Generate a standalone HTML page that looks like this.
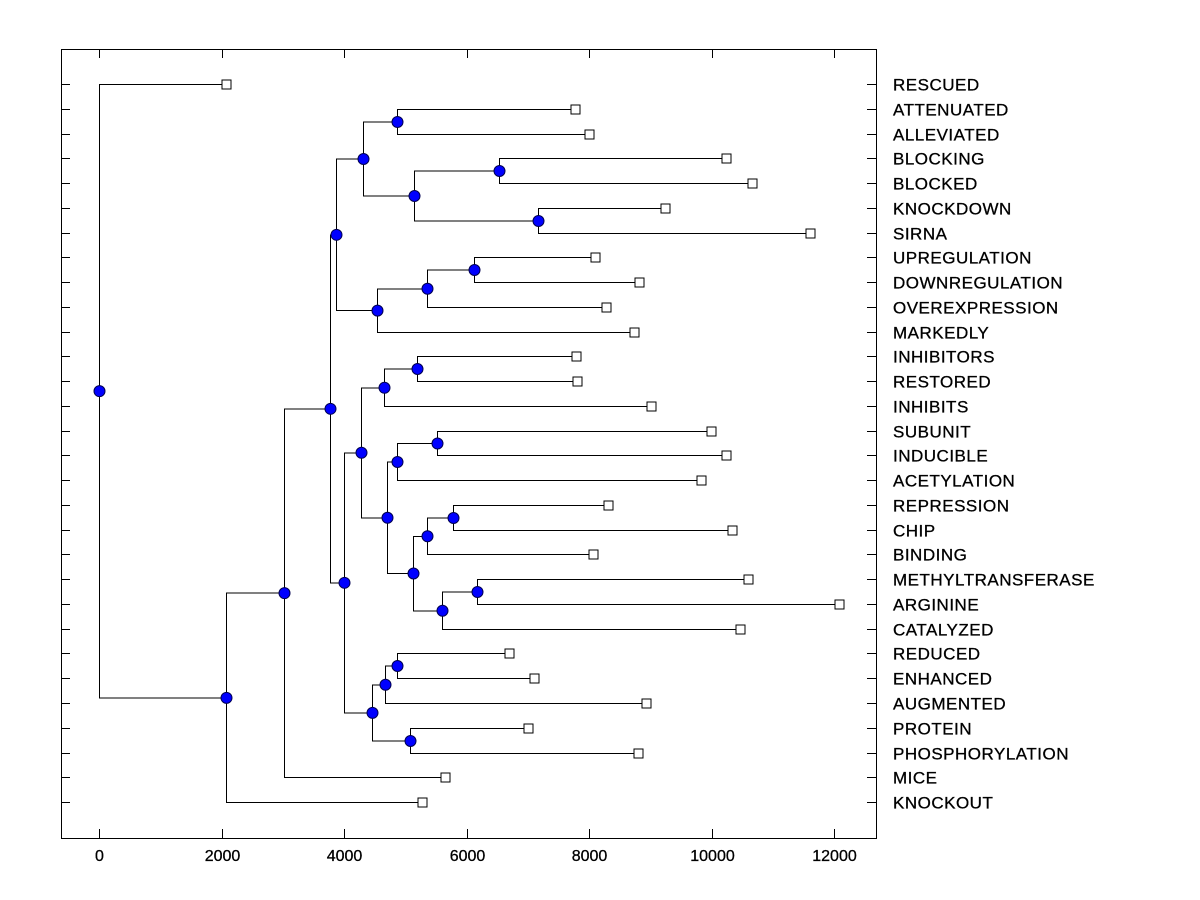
<!DOCTYPE html>
<html><head><meta charset="utf-8"><style>
html,body{margin:0;padding:0;background:#fff;}
svg{display:block;font-family:"Liberation Sans",Arial,sans-serif;}
</style></head><body>
<svg id="chart" width="1200" height="900" xmlns="http://www.w3.org/2000/svg" shape-rendering="crispEdges"></svg>
<script>
const leafNames=["RESCUED","ATTENUATED","ALLEVIATED","BLOCKING","BLOCKED","KNOCKDOWN","SIRNA","UPREGULATION","DOWNREGULATION","OVEREXPRESSION","MARKEDLY","INHIBITORS","RESTORED","INHIBITS","SUBUNIT","INDUCIBLE","ACETYLATION","REPRESSION","CHIP","BINDING","METHYLTRANSFERASE","ARGININE","CATALYZED","REDUCED","ENHANCED","AUGMENTED","PROTEIN","PHOSPHORYLATION","MICE","KNOCKOUT"];
const leafValues=[2070,7770,7990,10230,10660,9240,11600,8090,8810,8270,8730,7780,7800,9010,9990,10230,9820,8300,10330,8060,10590,12080,10460,6690,7100,8930,7000,8790,5640,5270];
const mergeLeft=[1,3,5,31,30,7,35,36,34,11,39,14,41,17,43,20,45,44,42,40,23,50,26,51,49,38,55,56,0];
const mergeRight=[2,4,6,32,33,8,9,10,37,12,13,15,16,18,19,21,22,46,47,48,24,25,27,52,53,54,28,29,57];
const mergeHeights=[4860,6530,7170,5140,4310,6120,5350,4540,3870,5190,4640,5510,4860,5780,5350,6170,5600,5120,4700,4280,4860,4670,5070,4460,4000,3770,3020,2070,0];
const xTicks=[0,2000,4000,6000,8000,10000,12000];

const NS="http://www.w3.org/2000/svg";
const svg=document.getElementById('chart');
const L=61,R=876,T=49,B=838;
function xs(v){return Math.round(99.3+v*0.06125)+0.5;}
function ys(i){return Math.round(84+i*24.76)+0.5;}
function mk(tag,attrs,parent){const e=document.createElementNS(NS,tag);for(const k in attrs)e.setAttribute(k,attrs[k]);(parent||svg).appendChild(e);return e;}

const frame=mk('rect',{x:L+0.5,y:T+0.5,width:R-L,height:B-T,fill:'none',stroke:'#000','stroke-width':1});



xTicks.forEach(t=>{
  const x=xs(t);
  const a=mk('line',{x1:x,y1:B,x2:x,y2:B-9,stroke:'#000'});
  
  
  const b=mk('line',{x1:x,y1:T,x2:x,y2:T+9,stroke:'#000'});
  
  
  const tx=mk('text',{x:x,y:861,'text-anchor':'middle','font-size':16,fill:'#000','stroke':'#000','stroke-width':0.3});
  tx.textContent=String(t);
  
  
});

leafNames.forEach((n,i)=>{
  const y=ys(i);
  const a=mk('line',{x1:L,y1:y,x2:L+9,y2:y,stroke:'#000'});
  
  
  const b=mk('line',{x1:R-9,y1:y,x2:R,y2:y,stroke:'#000'});
  
  
  const tx=mk('text',{x:893,y:y+6,'font-size':17,'letter-spacing':'0.5px',fill:'#000','stroke':'#000','stroke-width':0.3});
  tx.textContent=n;
  
  
});

const nodeX=leafValues.slice(), nodeY=leafNames.map((_,i)=>ys(i));
mergeHeights.forEach((h,k)=>{
  const a=mergeLeft[k],b=mergeRight[k];
  nodeX.push(h); nodeY.push((nodeY[a]+nodeY[b])/2);
});
const g=mk('g',{});


mergeHeights.forEach((h,k)=>{
  const a=mergeLeft[k],b=mergeRight[k];
  const x=xs(h);
  const p=mk('path',{d:`M${xs(nodeX[a])},${nodeY[a]}H${x}V${nodeY[b]}H${xs(nodeX[b])}`,fill:'none',stroke:'#000','stroke-width':1},g);
  
  
});
leafValues.forEach((v,i)=>{
  const r=mk('rect',{x:xs(v)-4.5,y:ys(i)-4.5,width:9,height:9,fill:'#fff',stroke:'#000','stroke-width':1});
  
  
});
mergeHeights.forEach((h,k)=>{
  const c=mk('circle',{cx:xs(h),cy:nodeY[30+k],r:5.5,fill:'#0000ff',stroke:'#000050','stroke-width':1,'shape-rendering':'auto'});
  
  
});
</script>
</body></html>
